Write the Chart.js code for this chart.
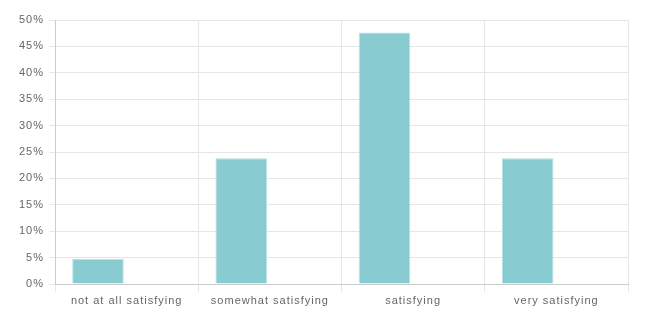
<!DOCTYPE html>
<html>
<head>
<meta charset="utf-8">
<script src="https://cdn.jsdelivr.net/npm/chart.js@4"></script>
<style>
html,body{margin:0;padding:0;background:#fff;}
#wrap{width:647px;height:321px;position:relative;}
</style>
</head>
<body>
<div id="wrap"><canvas id="c"></canvas></div>
<script>
const categories = ["not at all satisfying", "somewhat satisfying", "satisfying", "very satisfying"];
const shareValues = [4.76, 23.81, 47.62, 23.81];
const emptyValues = [0, 0, 0, 0];
const yTicks = [0, 5, 10, 15, 20, 25, 30, 35, 40, 45, 50];

Chart.defaults.font.family = "'Liberation Sans', Arial, sans-serif";
Chart.defaults.font.size = 11;
Chart.defaults.color = "#666";

const spacingPlugin = {
  id: "spacing",
  beforeUpdate(chart) { chart.ctx.letterSpacing = "1px"; },
  beforeDraw(chart) { chart.ctx.letterSpacing = "1px"; }
};

new Chart(document.getElementById("c"), {
  type: "bar",
  plugins: [spacingPlugin],
  data: {
    labels: categories,
    datasets: [
      {
        label: "share",
        data: shareValues,
        backgroundColor: "#88cbd0",
        borderColor: "#b5e2e5",
        borderWidth: 1
      },
      {
        label: "other",
        data: emptyValues,
        backgroundColor: "#88cbd0",
        borderWidth: 0
      }
    ]
  },
  options: {
    responsive: true,
    maintainAspectRatio: false,
    animation: false,
    layout: { padding: { left: 10, right: 19, top: 20, bottom: 0 } },
    plugins: { legend: { display: false }, tooltip: { enabled: false } },
    scales: {
      x: {
        grid: { color: "#e6e6e6", offset: true, tickLength: 8 },
        border: { color: "#ccc" },
        ticks: { padding: 2 },
        afterFit: (axis) => { axis.height = 37; }
      },
      y: {
        min: 0,
        max: 50,
        afterBuildTicks: (axis) => { axis.ticks = yTicks.map(v => ({ value: v })); },
        ticks: { callback: v => v + "%", padding: 5 },
        grid: { color: "#e6e6e6", tickLength: 6 },
        border: { color: "#ccc" },
        afterFit: (axis) => { axis.width = 45; }
      }
    }
  }
});
</script>
</body>
</html>
